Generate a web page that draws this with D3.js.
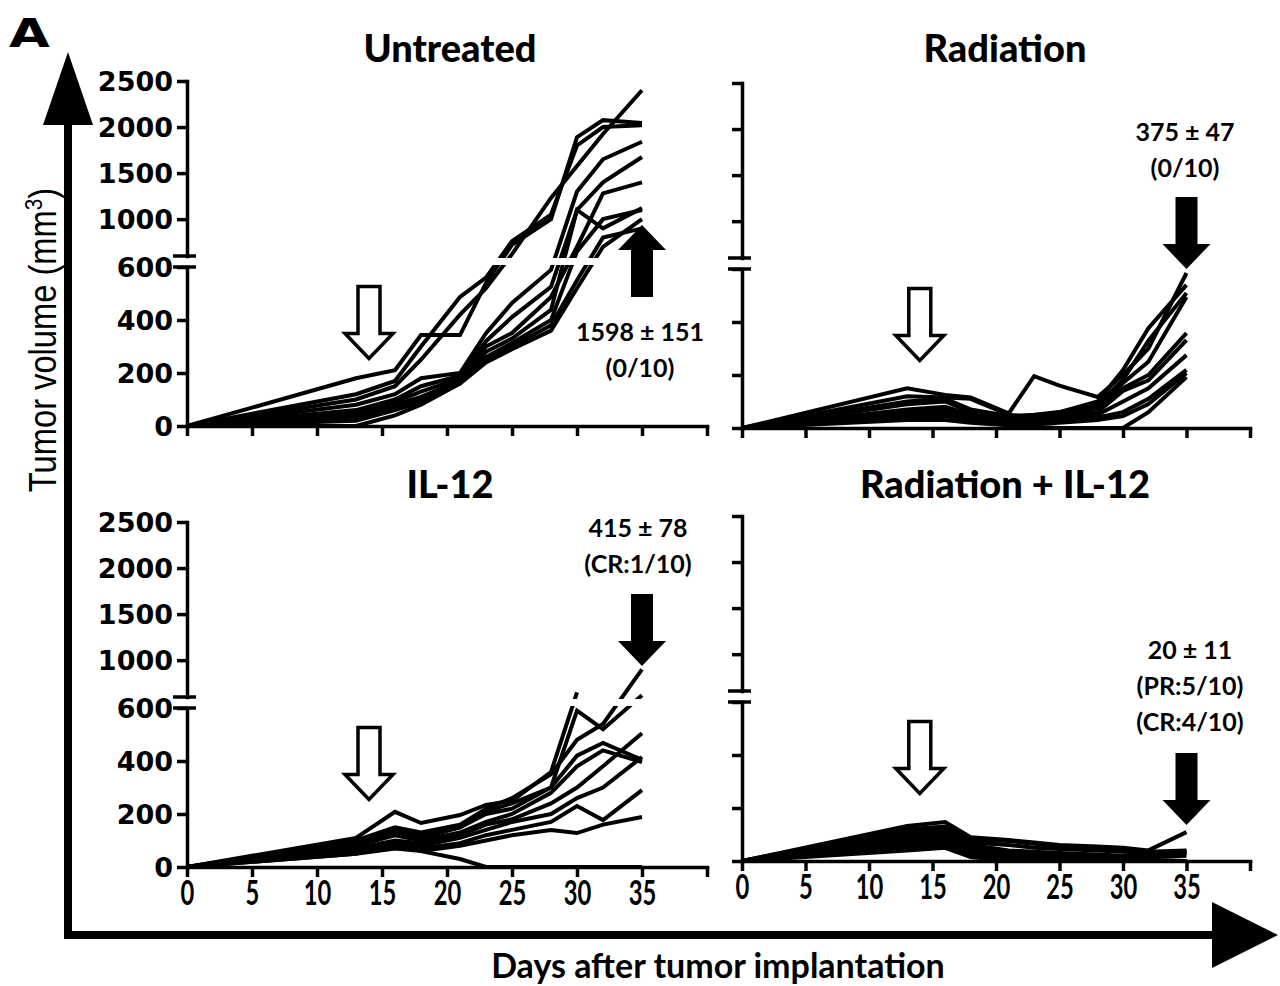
<!DOCTYPE html>
<html>
<head>
<meta charset="utf-8">
<script src="https://cdn.jsdelivr.net/npm/d3@7"></script>
<style>
  body { margin: 0; background: #fff; }
</style>
</head>
<body>
<svg id="chart" width="1280" height="986"></svg>
<script>
// measurement days (shared by all groups)
const days = [0, 13, 16, 18, 21, 23, 25, 28, 30, 32, 35];

// tumor volume per mouse (mm3), one row per animal
const untreated = [
    [0, 180, 211, 343, 343, 540, 720, 1000, 1890, 2075, 2044],
    [0, 120, 170, 300, 487, 560, 760, 1050, 1800, 2000, 2020],
    [0, 100, 150, 250, 420, 520, 620, 1230, 1577, 1925, 2400],
    [0, 80, 120, 180, 200, 350, 464, 589, 1300, 1650, 1840],
    [0, 60, 100, 150, 190, 320, 411, 525, 1100, 1400, 1675],
    [0, 50, 90, 130, 180, 300, 351, 487, 700, 1280, 1400],
    [0, 40, 80, 110, 170, 280, 330, 438, 1100, 900, 1120],
    [0, 30, 70, 100, 165, 260, 313, 400, 650, 1000, 1100],
    [0, 20, 60, 90, 162, 250, 300, 380, 550, 800, 900],
    [0, 0, 40, 80, 160, 240, 290, 360, 520, 700, 1000]
];
const radiation = [
    [0, 150, 125, 115, 55, 196, 160, 117, 200, 300, 585],
    [0, 120, 115, 110, 50, 40, 60, 100, 219, 377, 540],
    [0, 100, 110, 70, 45, 50, 60, 90, 181, 330, 509],
    [0, 90, 100, 60, 40, 45, 55, 80, 170, 250, 494],
    [0, 70, 80, 50, 35, 40, 50, 75, 150, 200, 358],
    [0, 60, 70, 40, 30, 35, 45, 60, 140, 180, 332],
    [0, 55, 60, 35, 25, 30, 40, 50, 100, 150, 275],
    [0, 50, 55, 30, 20, 25, 30, 40, 60, 110, 219],
    [0, 40, 45, 25, 15, 15, 20, 30, 45, 90, 207],
    [0, 30, 30, 20, 10, 5, 0, 0, 0, 60, 192]
];
const il12 = [
    [0, 110, 208, 166, 196, 234, 250, 358, 650, null, null],
    [0, 100, 150, 130, 160, 220, 260, 350, 480, 540, 900],
    [0, 95, 140, 120, 150, 210, 240, 300, 590, 520, 620],
    [0, 90, 130, 110, 150, 200, 220, 300, 420, 468, 404],
    [0, 80, 120, 100, 130, 170, 200, 280, 380, 440, 396],
    [0, 70, 100, 90, 120, 160, 180, 240, 300, 380, 505],
    [0, 60, 90, 80, 110, 140, 170, 200, 260, 300, 415],
    [0, 60, 80, 70, 90, 120, 140, 170, 230, 177, 290],
    [0, 50, 70, 60, 80, 100, 120, 140, 128, 160, 189],
    [0, 50, 90, 60, 30, 0, 0, 0, 0, 0, 0]
];
const radIl12 = [
    [0, 132, 147, 90, 79, 70, 60, 55, 50, 40, 109],
    [0, 120, 130, 80, 75, 65, 55, 50, 45, 35, 40],
    [0, 110, 120, 70, 60, 50, 45, 40, 35, 30, 35],
    [0, 100, 110, 60, 40, 35, 30, 25, 20, 25, 30],
    [0, 90, 100, 50, 30, 25, 20, 15, 10, 15, 20],
    [0, 80, 90, 40, 20, 15, 10, 10, 5, 5, 0],
    [0, 70, 80, 30, 10, 10, 5, 5, 0, 0, 0],
    [0, 60, 70, 25, 10, 5, 0, 0, 0, 0, 0],
    [0, 50, 60, 20, 5, 0, 0, 0, 0, 0, 0],
    [0, 40, 50, 15, 0, 0, 0, 0, 0, 0, 0]
];

const titles = ["Untreated", "Radiation", "IL-12", "Radiation + IL-12"];
const notes = [
    ["1598 \u00b1 151", "(0/10)"],
    ["375 \u00b1 47", "(0/10)"],
    ["415 \u00b1 78", "(CR:1/10)"],
    ["20 \u00b1 11", "(PR:5/10)", "(CR:4/10)"]
];
const yTicksLow = [0, 200, 400, 600];
const yTicksHigh = [1000, 1500, 2000, 2500];
const xTicks = [0, 5, 10, 15, 20, 25, 30, 35, 40];
const xTickLabels = ["0", "5", "10", "15", "20", "25", "30", "35"];
// treatment arrows: open one at [day, tip volume], filled ones [day, tip volume, direction]
const openArrow = [14, 255];
const endArrows = [[35, 937, "up"], [35, 600, "down"], [35, 937, "down"], [35, 136, "down"]];

// layout of the four panels
const panels = [
    { left: 187, zero: 426, dayPx: 13, data: untreated, yLabels: true, xLabels: false, noteX: 640, noteY: 341 },
    { left: 742, zero: 428, dayPx: 12.7, data: radiation, yLabels: false, xLabels: false, noteX: 1185, noteY: 141 },
    { left: 187, zero: 867, dayPx: 13, data: il12, yLabels: true, xLabels: true, noteX: 638, noteY: 537 },
    { left: 742, zero: 861, dayPx: 12.7, data: radIl12, yLabels: false, xLabels: true, noteX: 1190, noteY: 659 }
];
const titleY = [62, 62, 498, 498];

const svg = d3.select("#chart");
const lowH = 159, gapH = 11, fullH = 345;

panels.forEach((p, k) => {
    const g = svg.append("g");
    const x = d3.scaleLinear().domain([0, 40]).range([p.left, p.left + 40 * p.dayPx]);
    const yLow = d3.scaleLinear().domain([0, 600]).range([p.zero, p.zero - lowH]);
    const yHigh = d3.scaleLinear().domain([600, 2500]).range([p.zero - lowH - gapH, p.zero - fullH]);
    const yPos = (v) => (v <= 600 ? yLow(v) : yHigh(v));

    const line = d3
        .line()
        .defined((d) => d != null)
        .x((d, i) => x(days[i]))
        .y((d) => yPos(d));

    g.selectAll(".mouse")
        .data(p.data)
        .enter()
        .append("path")
        .attr("class", "mouse")
        .attr("d", line)
        .attr("fill", "none")
        .attr("stroke", "#000")
        .attr("stroke-width", 4)
        .attr("stroke-linejoin", "miter")
        .attr("stroke-miterlimit", 3);

    // blank out the axis break
    g.append("rect")
        .attr("x", p.left + 3)
        .attr("y", p.zero - lowH - gapH + 2)
        .attr("width", 40 * p.dayPx)
        .attr("height", gapH - 4)
        .attr("fill", "#fff");

    // axes
    const axisLow = d3.axisLeft(yLow).tickValues(yTicksLow).tickSize(10).tickSizeOuter(0);
    const axisHigh = d3.axisLeft(yHigh).tickValues(yTicksHigh).tickSize(10).tickSizeOuter(0);
    const xAxis = d3.axisBottom(x).tickValues(xTicks).tickSize(10).tickSizeOuter(0);

    const yAxes = [
        g.append("g").attr("transform", `translate(${p.left},0)`).call(axisLow),
        g.append("g").attr("transform", `translate(${p.left},0)`).call(axisHigh)
    ];
    const xG = g.append("g").attr("transform", `translate(0,${p.zero})`).call(xAxis);

    yAxes.concat([xG]).forEach((a) => {
        a.selectAll("path, line").attr("stroke", "#000").attr("stroke-width", 3.5);
        a.select(".domain").attr("stroke-linecap", "square");
        a.selectAll(".tick text").text("");
    });

    if (p.yLabels) {
        yAxes.forEach((a) => {
            a.selectAll(".tick text")
                .attr("x", -14)
                .attr("dy", "0.36em")
                .style("font-family", "'DejaVu Sans', sans-serif")
                .style("font-weight", "bold")
                .style("font-size", "27px")
                .attr("fill", "#000")
                .text((d) => d);
        });
    }
    if (p.xLabels) {
        xG.selectAll(".tick text")
            .attr("y", 14)
            .attr("dy", "0.72em")
            .attr("transform", "scale(0.7,1)")
            .style("font-family", "Lato, sans-serif")
            .style("font-weight", "bold")
            .style("font-size", "34px")
            .attr("fill", "#000")
            .text((d) => (d < 40 ? xTickLabels[d / 5] : ""));
    }

    // break caps
    [p.zero - lowH - gapH, p.zero - lowH].forEach((yy) => {
        g.append("line")
            .attr("x1", p.left - 14)
            .attr("x2", p.left + 9)
            .attr("y1", yy)
            .attr("y2", yy)
            .attr("stroke", "#000")
            .attr("stroke-width", 3.5);
    });

    // title
    g.append("text")
        .attr("x", p.left + 263)
        .attr("y", titleY[k])
        .attr("text-anchor", "middle")
        .style("font-family", "Lato, sans-serif")
        .style("font-weight", "900")
        .style("font-size", "38px")
        .text(titles[k]);

    // group summary
    notes[k].forEach((t, j) => {
        g.append("text")
            .attr("x", p.noteX)
            .attr("y", p.noteY + j * 36)
            .attr("text-anchor", "middle")
            .style("font-family", "Lato, sans-serif")
            .style("font-weight", "bold")
            .style("font-size", "25px")
            .text(t);
    });

    // open arrow: start of treatment
    g.append("path")
        .attr("d", blockArrow(x(openArrow[0]), yPos(openArrow[1]), 1))
        .attr("fill", "#fff")
        .attr("stroke", "#000")
        .attr("stroke-width", 3.5);

    // filled arrow: end point
    const e = endArrows[k];
    g.append("path")
        .attr("d", blockArrow(x(e[0]), yPos(e[1]), e[2] === "up" ? -1 : 1))
        .attr("fill", "#000");
});

// block arrow with tip at (tx, ty); dir 1 = points down, -1 = points up
function blockArrow(tx, ty, dir) {
    const headL = 25, shaftL = 47, headW = 24, shaftW = 11;
    const b = ty - dir * headL, t = ty - dir * (headL + shaftL);
    return d3.line()([
        [tx, ty], [tx - headW, b], [tx - shaftW, b], [tx - shaftW, t],
        [tx + shaftW, t], [tx + shaftW, b], [tx + headW, b]
    ]) + "Z";
}

// outer frame arrows
svg.append("line").attr("x1", 68).attr("x2", 68).attr("y1", 939).attr("y2", 110)
    .attr("stroke", "#000").attr("stroke-width", 8);
svg.append("path").attr("d", "M68,52L43,125L93,125Z").attr("fill", "#000");
svg.append("line").attr("x1", 64).attr("x2", 1220).attr("y1", 935).attr("y2", 935)
    .attr("stroke", "#000").attr("stroke-width", 8);
svg.append("path").attr("d", "M1278,935L1212,902L1212,968Z").attr("fill", "#000");

svg.append("text")
    .attr("transform", "translate(9,47) scale(1.35,1)")
    .style("font-family", "'DejaVu Sans', sans-serif")
    .style("font-weight", "bold")
    .style("font-size", "39px")
    .text("A");

const yLab = svg.append("text")
    .attr("transform", "translate(56,340) rotate(-90) scale(0.86,1)")
    .attr("text-anchor", "middle")
    .style("font-family", "'Liberation Sans', Arial, sans-serif")
    .style("font-size", "38px");
yLab.append("tspan").text("Tumor volume (mm");
yLab.append("tspan").attr("dy", -14).style("font-size", "24px").text("3");
yLab.append("tspan").attr("dy", 14).text(")");

svg.append("text")
    .attr("x", 718)
    .attr("y", 978)
    .attr("text-anchor", "middle")
    .style("font-family", "Lato, sans-serif")
    .style("font-weight", "bold")
    .style("font-size", "34px")
    .text("Days after tumor implantation");
</script>
</body>
</html>
